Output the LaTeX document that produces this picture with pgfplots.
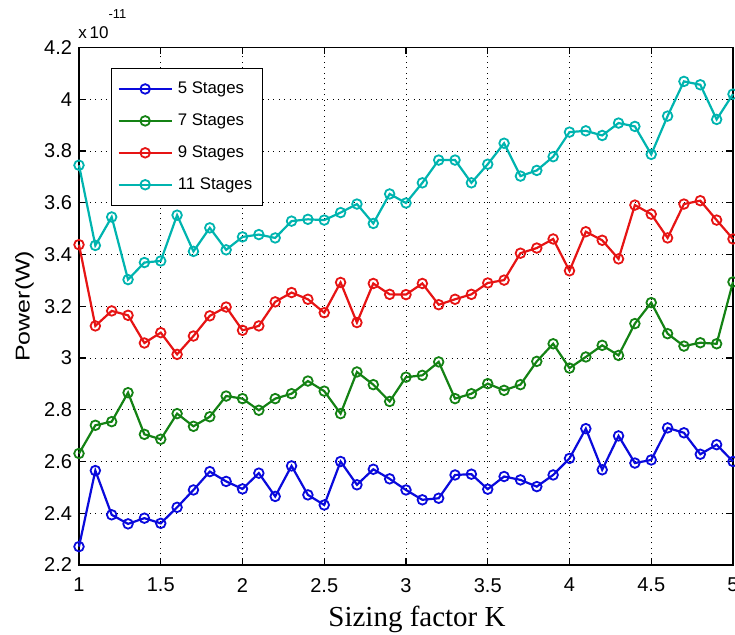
\documentclass[border=0pt]{standalone}
\usepackage{fontspec}
\setmainfont{Liberation Sans}
\newfontfamily\seriffont{Liberation Serif}
\usepackage{graphicx}
\usepackage{pgfplots}
\pgfplotsset{compat=1.18}
\usepackage{pgfplotstable}

\definecolor{mblue}{RGB}{10,10,220}
\definecolor{mgreen}{RGB}{20,130,20}
\definecolor{mred}{RGB}{230,20,20}
\definecolor{mcyan}{RGB}{0,180,175}

\pgfplotstableread{
x y
1.0 2.271e-11
1.1 2.565e-11
1.2 2.394e-11
1.3 2.359e-11
1.4 2.381e-11
1.5 2.361e-11
1.6 2.423e-11
1.7 2.490e-11
1.8 2.561e-11
1.9 2.523e-11
2.0 2.494e-11
2.1 2.555e-11
2.2 2.465e-11
2.3 2.583e-11
2.4 2.471e-11
2.5 2.432e-11
2.6 2.600e-11
2.7 2.510e-11
2.8 2.570e-11
2.9 2.533e-11
3.0 2.490e-11
3.1 2.452e-11
3.2 2.458e-11
3.3 2.548e-11
3.4 2.551e-11
3.5 2.493e-11
3.6 2.542e-11
3.7 2.529e-11
3.8 2.503e-11
3.9 2.548e-11
4.0 2.612e-11
4.1 2.727e-11
4.2 2.568e-11
4.3 2.699e-11
4.4 2.594e-11
4.5 2.606e-11
4.6 2.730e-11
4.7 2.711e-11
4.8 2.628e-11
4.9 2.665e-11
5.0 2.600e-11
}\tblA

\pgfplotstableread{
x y
1.0 2.631e-11
1.1 2.740e-11
1.2 2.754e-11
1.3 2.866e-11
1.4 2.705e-11
1.5 2.686e-11
1.6 2.785e-11
1.7 2.736e-11
1.8 2.773e-11
1.9 2.853e-11
2.0 2.843e-11
2.1 2.798e-11
2.2 2.843e-11
2.3 2.862e-11
2.4 2.911e-11
2.5 2.872e-11
2.6 2.785e-11
2.7 2.946e-11
2.8 2.897e-11
2.9 2.832e-11
3.0 2.926e-11
3.1 2.933e-11
3.2 2.985e-11
3.3 2.843e-11
3.4 2.862e-11
3.5 2.901e-11
3.6 2.875e-11
3.7 2.897e-11
3.8 2.987e-11
3.9 3.055e-11
4.0 2.961e-11
4.1 3.004e-11
4.2 3.049e-11
4.3 3.010e-11
4.4 3.133e-11
4.5 3.214e-11
4.6 3.094e-11
4.7 3.046e-11
4.8 3.059e-11
4.9 3.055e-11
5.0 3.294e-11
}\tblB

\pgfplotstableread{
x y
1.0 3.438e-11
1.1 3.124e-11
1.2 3.182e-11
1.3 3.165e-11
1.4 3.058e-11
1.5 3.098e-11
1.6 3.014e-11
1.7 3.085e-11
1.8 3.163e-11
1.9 3.197e-11
2.0 3.107e-11
2.1 3.124e-11
2.2 3.217e-11
2.3 3.253e-11
2.4 3.227e-11
2.5 3.175e-11
2.6 3.292e-11
2.7 3.137e-11
2.8 3.288e-11
2.9 3.246e-11
3.0 3.245e-11
3.1 3.288e-11
3.2 3.206e-11
3.3 3.227e-11
3.4 3.246e-11
3.5 3.290e-11
3.6 3.301e-11
3.7 3.405e-11
3.8 3.425e-11
3.9 3.460e-11
4.0 3.337e-11
4.1 3.488e-11
4.2 3.455e-11
4.3 3.383e-11
4.4 3.591e-11
4.5 3.556e-11
4.6 3.464e-11
4.7 3.595e-11
4.8 3.608e-11
4.9 3.533e-11
5.0 3.460e-11
}\tblC

\pgfplotstableread{
x y
1.0 3.745e-11
1.1 3.435e-11
1.2 3.545e-11
1.3 3.303e-11
1.4 3.369e-11
1.5 3.375e-11
1.6 3.552e-11
1.7 3.412e-11
1.8 3.503e-11
1.9 3.418e-11
2.0 3.468e-11
2.1 3.477e-11
2.2 3.464e-11
2.3 3.529e-11
2.4 3.536e-11
2.5 3.533e-11
2.6 3.562e-11
2.7 3.595e-11
2.8 3.520e-11
2.9 3.634e-11
3.0 3.599e-11
3.1 3.677e-11
3.2 3.765e-11
3.3 3.765e-11
3.4 3.677e-11
3.5 3.749e-11
3.6 3.830e-11
3.7 3.703e-11
3.8 3.725e-11
3.9 3.778e-11
4.0 3.873e-11
4.1 3.878e-11
4.2 3.860e-11
4.3 3.908e-11
4.4 3.895e-11
4.5 3.787e-11
4.6 3.935e-11
4.7 4.069e-11
4.8 4.056e-11
4.9 3.922e-11
5.0 4.020e-11
}\tblD

\begin{document}
\begin{tikzpicture}
\begin{axis}[
  scale only axis,
  width=327pt, height=258.75pt,
  xmin=1, xmax=5, ymin=2.2e-11, ymax=4.2e-11,
  xtick={1,1.5,2,2.5,3,3.5,4,4.5,5},
  ytick={2.2e-11,2.4e-11,2.6e-11,2.8e-11,3.0e-11,3.2e-11,3.4e-11,3.6e-11,3.8e-11,4.0e-11,4.2e-11},
  scaled y ticks=base 10:11,
  ytick scale label code/.code={\fontsize{8.5}{9}\selectfont x\,10\raisebox{9.75pt}{\fontsize{6.5}{7}\selectfont -11}},
  every y tick scale label/.style={at={(axis description cs:0,1)}, anchor=base west, inner sep=0pt, xshift=-0.5pt, yshift=4.75pt},
  /pgf/number format/assume math mode=true,
  yticklabel style={/pgf/number format/fixed, /pgf/number format/precision=1},
  tick label style={font=\fontsize{10}{12}\selectfont},
  xticklabel style={yshift=-3pt},
  axis line style={black, line width=0.8pt},
  tick style={black, line width=0.6pt},
  major tick length=3.3pt,
  grid=major,
  major grid style={black, line width=0.45pt, dash pattern=on 0.5pt off 2.2pt},
  xlabel={Sizing factor K},
  xlabel style={at={(axis description cs:0.5,0)}, anchor=base, yshift=-30.5pt, xshift=5.5pt, font=\seriffont\fontsize{14.5}{16}\selectfont},
  ylabel={\scalebox{1.25}[1]{Power(W)}},
  ylabel style={at={(axis description cs:-0.0833,0.5)}, anchor=center, font=\fontsize{10}{12}\selectfont},
  clip=false,
  legend cell align=left,
  legend image code/.code={\draw[mark repeat=2, mark phase=2, #1] plot coordinates {(0pt,0pt) (13.25pt,0pt) (26.5pt,0pt)};},
  legend style={at={(axis description cs:0.0489,0.9604)}, anchor=north west, draw=black, line width=0.6pt,
    inner xsep=3pt, inner ysep=4.5pt, font=\fontsize{8.4}{10}\selectfont, row sep=4.6pt,
    /tikz/every odd column/.append style={column sep=0.5pt}},
]
\addplot[mblue, line width=1.1pt, mark=o, mark size=2.4pt, mark options={line width=0.9pt}] table[x=x,y=y]{\tblA};
\addlegendentry{5 Stages}
\addplot[mgreen, line width=1.1pt, mark=o, mark size=2.4pt, mark options={line width=0.9pt}] table[x=x,y=y]{\tblB};
\addlegendentry{7 Stages}
\addplot[mred, line width=1.1pt, mark=o, mark size=2.4pt, mark options={line width=0.9pt}] table[x=x,y=y]{\tblC};
\addlegendentry{9 Stages}
\addplot[mcyan, line width=1.1pt, mark=o, mark size=2.4pt, mark options={line width=0.9pt}] table[x=x,y=y]{\tblD};
\addlegendentry{11 Stages}
\end{axis}
\pgfresetboundingbox
\path (-39.5pt,-34.5pt) rectangle (328pt,282.5pt);
\end{tikzpicture}
\end{document}
